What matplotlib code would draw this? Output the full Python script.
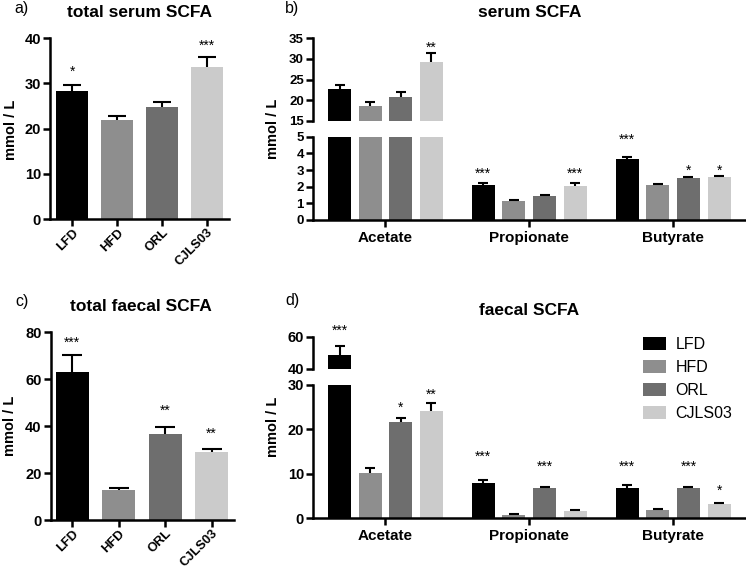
import matplotlib
matplotlib.use('Agg')
import matplotlib.pyplot as plt
from matplotlib.patches import Patch
import numpy as np

plt.rcParams['font.family'] = ['Liberation Sans', 'DejaVu Sans']

# ---------------- data ----------------
groups = ['LFD', 'HFD', 'ORL', 'CJLS03']
colors = ['#000000', '#8e8e8e', '#6e6e6e', '#cbcbcb']
acids = ['Acetate', 'Propionate', 'Butyrate']

# a) total serum SCFA
total_serum = [28.3, 21.9, 24.7, 33.7]
total_serum_err = [1.3, 0.9, 1.3, 2.1]
total_serum_stars = ['*', '', '', '***']
total_serum_star_y = [33.4, np.nan, np.nan, 39.3]

# b) serum SCFA (Acetate, Propionate, Butyrate)
serum_LFD = [22.6, 2.08, 3.64]
serum_LFD_err = [1.1, 0.14, 0.14]
serum_HFD = [18.6, 1.12, 2.08]
serum_HFD_err = [0.85, 0.08, 0.06]
serum_ORL = [20.8, 1.44, 2.50]
serum_ORL_err = [1.2, 0.06, 0.10]
serum_CJLS03 = [29.25, 2.04, 2.60]
serum_CJLS03_err = [2.1, 0.18, 0.04]
serum_stars_LFD = ['', '***', '***']
serum_star_y_LFD = [np.nan, 3.0, 5.04]
serum_stars_HFD = ['', '', '']
serum_star_y_HFD = [np.nan, np.nan, np.nan]
serum_stars_ORL = ['', '', '*']
serum_star_y_ORL = [np.nan, np.nan, 3.2]
serum_stars_CJLS03 = ['**', '***', '*']
serum_star_y_CJLS03 = [33.8, 3.04, 3.2]

# c) total faecal SCFA
total_faecal = [63.1, 12.8, 36.6, 29.1]
total_faecal_err = [7.1, 1.0, 3.2, 1.2]
total_faecal_stars = ['***', '', '**', '**']
total_faecal_star_y = [77.3, np.nan, 48.2, 38.3]

# d) faecal SCFA
faecal_LFD = [48.7, 8.03, 6.9]
faecal_LFD_err = [5.7, 0.67, 0.6]
faecal_HFD = [10.2, 0.75, 1.95]
faecal_HFD_err = [1.05, 0.15, 0.15]
faecal_ORL = [21.6, 6.75, 6.75]
faecal_ORL_err = [1.05, 0.35, 0.3]
faecal_CJLS03 = [24.2, 1.72, 3.2]
faecal_CJLS03_err = [1.7, 0.18, 0.3]
faecal_stars_LFD = ['***', '***', '***']
faecal_star_y_LFD = [66.2, 14.8, 12.4]
faecal_stars_HFD = ['', '', '']
faecal_star_y_HFD = [np.nan, np.nan, np.nan]
faecal_stars_ORL = ['*', '***', '***']
faecal_star_y_ORL = [25.7, 12.4, 12.4]
faecal_stars_CJLS03 = ['**', '', '*']
faecal_star_y_CJLS03 = [28.7, np.nan, 7.1]

serum_vals = [serum_LFD, serum_HFD, serum_ORL, serum_CJLS03]
serum_errs = [serum_LFD_err, serum_HFD_err, serum_ORL_err, serum_CJLS03_err]
serum_stars = [serum_stars_LFD, serum_stars_HFD, serum_stars_ORL, serum_stars_CJLS03]
serum_star_y = [serum_star_y_LFD, serum_star_y_HFD, serum_star_y_ORL, serum_star_y_CJLS03]
faecal_vals = [faecal_LFD, faecal_HFD, faecal_ORL, faecal_CJLS03]
faecal_errs = [faecal_LFD_err, faecal_HFD_err, faecal_ORL_err, faecal_CJLS03_err]
faecal_stars = [faecal_stars_LFD, faecal_stars_HFD, faecal_stars_ORL, faecal_stars_CJLS03]
faecal_star_y = [faecal_star_y_LFD, faecal_star_y_HFD, faecal_star_y_ORL, faecal_star_y_CJLS03]

# ---------------- layout ----------------
W, H = 746, 572
fig = plt.figure(figsize=(W / 100, H / 100), dpi=100)

LW = 1.8
STAR_FS = 10
STAR_SHIFT = -0.58 * STAR_FS  # points, to centre asterisk glyph on value


def px_axes(left, right, top, bottom):
    return fig.add_axes([left / W, 1 - bottom / H, (right - left) / W, (bottom - top) / H])


def style(ax, fs):
    for s in ['top', 'right']:
        ax.spines[s].set_visible(False)
    for s in ['left', 'bottom']:
        ax.spines[s].set_linewidth(LW)
    ax.tick_params(axis='both', direction='out', length=5, width=LW, pad=1.5,
                   labelsize=fs)
    for lab in ax.get_yticklabels() + ax.get_xticklabels():
        lab.set_fontweight('bold')


def bars_with_err(ax, x, h, e, color, width, cap):
    ax.bar(x, h, width, color=color, zorder=2, linewidth=0)
    eb = ax.errorbar(x, h, yerr=[np.zeros(len(h)), e], fmt='none', ecolor='black',
                     elinewidth=1.5, capsize=cap, capthick=1.5, zorder=3)
    eb[1][0].set_visible(False)


def star(ax, x, y, s):
    if s and not np.isnan(y):
        ax.annotate(s, (x, y), xytext=(0, STAR_SHIFT), textcoords='offset points',
                    ha='center', va='baseline', fontsize=STAR_FS, annotation_clip=False)


def rotated_labels(ax):
    ax.set_xticklabels(groups, rotation=45, ha='right', va='top', rotation_mode='anchor')
    ax.tick_params(axis='x', labelsize=9.3, pad=0.5)
    for lab in ax.get_xticklabels():
        lab.set_fontweight('bold')


# ---- panel a ----
axa = px_axes(50, 229, 38.3, 219)
xa = np.arange(len(groups))
for i in range(len(groups)):
    bars_with_err(axa, [xa[i]], [total_serum[i]], [total_serum_err[i]], colors[i], 0.71, 6.5)
    star(axa, xa[i], total_serum_star_y[i], total_serum_stars[i])
axa.set_xlim(-0.49, 3.49)
axa.set_ylim(0, 40)
axa.set_yticks([0, 10, 20, 30, 40])
axa.set_xticks(xa)
style(axa, 10.5)
rotated_labels(axa)

# ---- panel c ----
axc = px_axes(50.7, 234, 332.3, 520)
for i in range(len(groups)):
    bars_with_err(axc, [xa[i]], [total_faecal[i]], [total_faecal_err[i]], colors[i], 0.71, 7.5)
    star(axc, xa[i], total_faecal_star_y[i], total_faecal_stars[i])
axc.set_xlim(-0.46, 3.48)
axc.set_ylim(0, 80)
axc.set_yticks([0, 20, 40, 60, 80])
axc.set_xticks(xa)
style(axc, 10.5)
rotated_labels(axc)


# ---- broken grouped panels ----
def grouped(ax_top, ax_bot, vals, errs, stars, star_y, top_lim, bot_lim, top_ticks, bot_ticks, fs):
    xg = np.arange(len(acids))
    step = 0.213
    width = 0.16
    for i in range(len(groups)):
        xs = xg + (i - 1.5) * step
        for ax in (ax_top, ax_bot):
            bars_with_err(ax, xs, vals[i], errs[i], colors[i], width, 3.4)
        for j in range(len(acids)):
            tip = vals[i][j] + errs[i][j]
            target = ax_top if tip > bot_lim[1] else ax_bot
            star(target, xs[j], star_y[i][j], stars[i][j])
    for ax in (ax_top, ax_bot):
        ax.set_xlim(-0.504, 2.5)
    ax_top.set_ylim(*top_lim)
    ax_bot.set_ylim(*bot_lim)
    ax_top.set_yticks(top_ticks)
    ax_bot.set_yticks(bot_ticks)
    ax_top.set_xticks([])
    ax_bot.set_xticks(xg)
    ax_bot.set_xticklabels(acids)
    style(ax_top, fs)
    style(ax_bot, fs)
    ax_top.spines['bottom'].set_visible(False)
    ax_bot.tick_params(axis='x', labelsize=11, pad=3)
    for lab in ax_bot.get_xticklabels():
        lab.set_fontweight('bold')


axb_top = px_axes(313, 745, 38.3, 120.7)
axb_bot = px_axes(313, 745, 136.7, 220)
grouped(axb_top, axb_bot, serum_vals, serum_errs, serum_stars, serum_star_y,
        (15, 35), (0, 5), [15, 20, 25, 30, 35], [0, 1, 2, 3, 4, 5], 9.5)

axd_top = px_axes(313, 745, 336.7, 369)
axd_bot = px_axes(313, 745, 385, 518.3)
grouped(axd_top, axd_bot, faecal_vals, faecal_errs, faecal_stars, faecal_star_y,
        (40, 60), (0, 30), [40, 60], [0, 10, 20, 30], 10.5)

# ---- texts ----
def ftext(x, y, s, **kw):
    fig.text(x / W, 1 - y / H, s, **kw)

ftext(14, 13.5, 'a)', fontsize=11.5, va='baseline')
ftext(285, 12.5, 'b)', fontsize=11.5, va='baseline')
ftext(15, 306, 'c)', fontsize=11.5, va='baseline')
ftext(285, 305, 'd)', fontsize=11.5, va='baseline')

ftext(139.5, 17, 'total serum SCFA', fontsize=12.5, fontweight='bold', ha='center', va='baseline')
ftext(530, 16.7, 'serum SCFA', fontsize=12.5, fontweight='bold', ha='center', va='baseline')
ftext(141, 311, 'total faecal SCFA', fontsize=12.5, fontweight='bold', ha='center', va='baseline')
ftext(529, 315, 'faecal SCFA', fontsize=12.5, fontweight='bold', ha='center', va='baseline')

ftext(11, 130, 'mmol / L', fontsize=10.5, fontweight='bold', rotation=90, ha='center', va='center')
ftext(273, 129, 'mmol / L', fontsize=10.5, fontweight='bold', rotation=90, ha='center', va='center')
ftext(10, 426, 'mmol / L', fontsize=10.5, fontweight='bold', rotation=90, ha='center', va='center')
ftext(273, 427, 'mmol / L', fontsize=10.5, fontweight='bold', rotation=90, ha='center', va='center')

handles = [Patch(facecolor=c, edgecolor='none', label=g) for g, c in zip(groups, colors)]
fig.legend(handles=handles, loc='upper left', bbox_to_anchor=(642.7 / W, 1 - 337 / H),
           frameon=False, fontsize=11.5, handlelength=1.45, handleheight=0.85,
           handletextpad=0.6, labelspacing=0.5, borderpad=0, borderaxespad=0)

fig.savefig('out.png', dpi=100)
